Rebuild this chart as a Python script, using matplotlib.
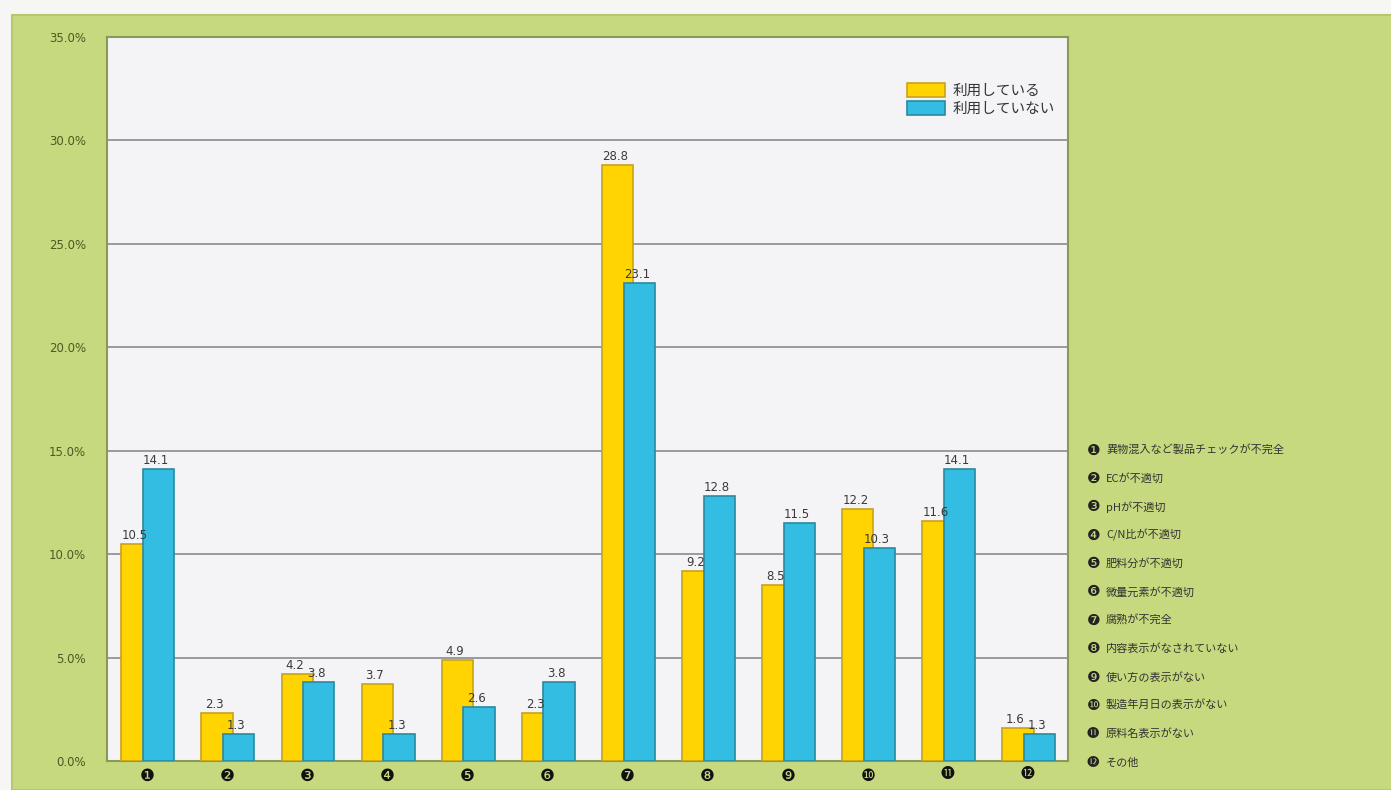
import matplotlib
matplotlib.use("Agg")
import matplotlib.pyplot as plt
import numpy as np
from matplotlib.patches import Rectangle

plt.rcParams['font.family'] = ['Noto Sans CJK JP', 'DejaVu Sans']

marks = ["❶", "❷", "❸", "❹", "❺", "❻", "❼", "❽", "❾", "❿", "⓫", "⓬"]
reasons = ["異物混入など製品チェックが不完全", "ECが不適切", "pHが不適切", "C/N比が不適切",
           "肥料分が不適切", "微量元素が不適切", "腐熟が不完全", "内容表示がなされていない",
           "使い方の表示がない", "製造年月日の表示がない", "原料名表示がない", "その他"]
using = [10.5, 2.3, 4.2, 3.7, 4.9, 2.3, 28.8, 9.2, 8.5, 12.2, 11.6, 1.6]
not_using = [14.1, 1.3, 3.8, 1.3, 2.6, 3.8, 23.1, 12.8, 11.5, 10.3, 14.1, 1.3]
series_names = ["利用している", "利用していない"]
yticks = [0, 5, 10, 15, 20, 25, 30, 35]

green = "#c6d97e"
yellow = "#ffd400"
blue = "#33bde3"

fig = plt.figure(figsize=(13.91, 7.9), dpi=100)
fig.patch.set_facecolor("#f6f6f4")
fig.patches.append(Rectangle((12 / 1391, 0), 1, (790 - 15) / 790, transform=fig.transFigure,
                             facecolor=green, edgecolor="#b5c86c", lw=1.5, zorder=-10))

ax = fig.add_axes([107 / 1391, 29 / 790, 961 / 1391, 724 / 790])
ax.set_facecolor("#f4f4f6")

x = np.arange(len(marks))
w = 0.39
b1 = ax.bar(x - 0.125, using, w, color=yellow, edgecolor="#c9a21a", lw=1.2,
            label=series_names[0], zorder=3)
b2 = ax.bar(x + 0.145, not_using, w, color=blue, edgecolor="#2a8aa0", lw=1.2,
            label=series_names[1], zorder=4)

for bars, vals in ((b1, using), (b2, not_using)):
    for r, v in zip(bars, vals):
        ax.text(r.get_x() + r.get_width() / 2 - 0.03, v + 0.1, f"{v:.1f}", ha="center", va="bottom",
                fontsize=8.5, color="#3a3a3a", family="DejaVu Sans", zorder=5)

ax.set_xlim(-0.5, len(marks) - 0.5)
ax.set_ylim(0, 35)
ax.set_yticks(yticks)
ax.set_yticklabels([f"{t:.1f}%" for t in yticks], fontsize=8.5, color="#4b5a22", family="DejaVu Sans")
ax.set_xticks(x)
ax.set_xticklabels(marks, color="#111111", family=["DejaVu Sans", "Noto Sans CJK JP"])
for i, lab in enumerate(ax.get_xticklabels()):
    lab.set_fontsize(12 if i < 10 else 10)
ax.tick_params(length=0, pad=4)
ax.tick_params(axis="y", pad=15)
ax.yaxis.grid(True, color="#9a9a9a", lw=1.4, zorder=1)
ax.set_axisbelow(True)
for s in ax.spines.values():
    s.set_color("#8a9a55")
    s.set_linewidth(1.5)

leg = ax.legend(loc="upper right", bbox_to_anchor=(1.0, 0.955), frameon=False, fontsize=10.5,
                handlelength=2.6, handleheight=1.1, labelspacing=0.25, handletextpad=0.5)
for t in leg.get_texts():
    t.set_color("#333333")

y0 = 1 - 450 / 790
dy = 28.4 / 790
for i, (m, r) in enumerate(zip(marks, reasons)):
    yy = y0 - i * dy
    fig.text(1087 / 1391, yy, m, fontsize=11 if i < 10 else 9, color="#222222", va="center",
             family=["DejaVu Sans", "Noto Sans CJK JP"])
    fig.text(1106 / 1391, yy, r, fontsize=8, color="#333333", va="center")

fig.savefig("out.png", dpi=100, facecolor=fig.get_facecolor())
